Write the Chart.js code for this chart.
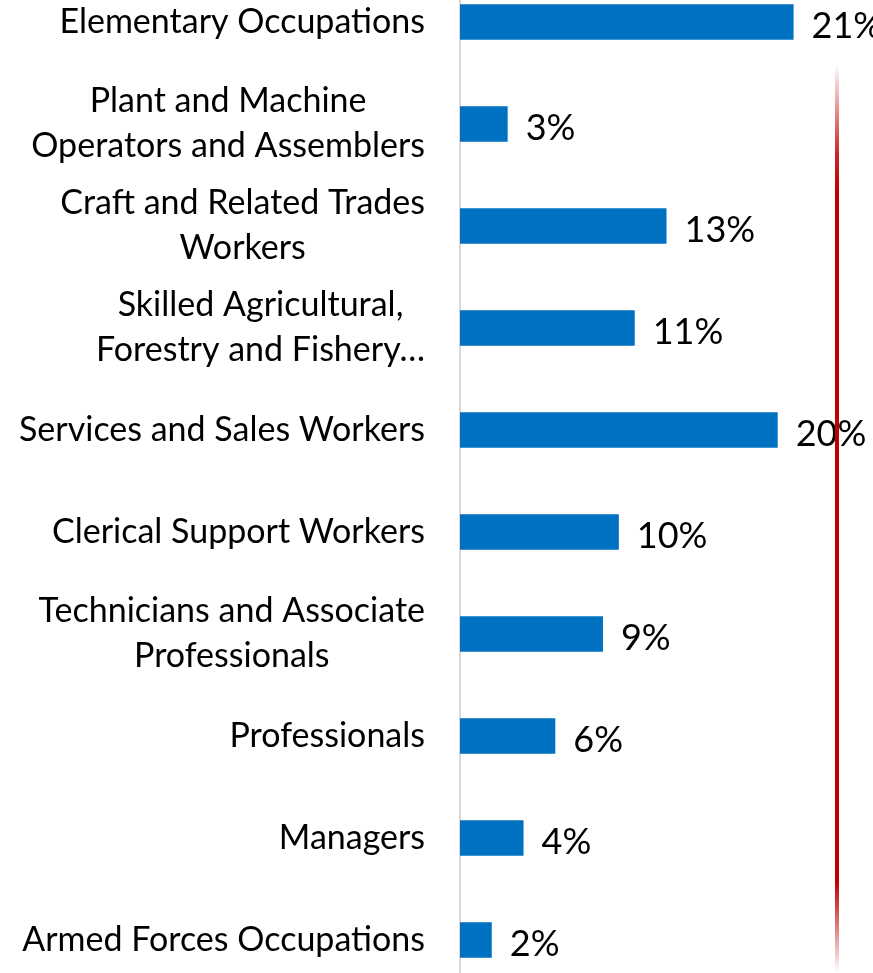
<!DOCTYPE html>
<html>
<head>
<meta charset="utf-8">
<script src="https://cdn.jsdelivr.net/npm/chart.js@4"></script>
<style>
  html, body { margin: 0; padding: 0; background: #ffffff; overflow: hidden; }
  #wrap { position: relative; width: 873px; height: 973px; overflow: hidden; }
  #holder { position: absolute; left: 0; top: -29px; width: 873px; height: 1020px; }
  /* thin red separator rule on the right of the slide */
  #rule {
    position: absolute; left: 835px; top: 64px; width: 4px; height: 909px;
    background: linear-gradient(to bottom,
      rgba(192,0,0,0) 0%, rgba(192,0,0,0.85) 10%, #C00000 14%,
      #C00000 90%, rgba(192,0,0,0) 100%);
  }
</style>
</head>
<body>
<div id="wrap">
  <div id="holder"><canvas id="chart"></canvas></div>
  <div id="rule"></div>
</div>
<script>
// Occupation groups, top to bottom (multi-line entries are wrapped labels)
const categories = [
  ["Elementary Occupations"],
  ["Plant and Machine", "Operators and Assemblers"],
  ["Craft and Related Trades", "Workers"],
  ["Skilled Agricultural,", "Forestry and Fishery\u2026"],
  ["Services and Sales Workers"],
  ["Clerical Support Workers"],
  ["Technicians and Associate", "Professionals"],
  ["Professionals"],
  ["Managers"],
  ["Armed Forces Occupations"]
];

// Share of employment by occupation group (%)
const shares = [21, 3, 13, 11, 20, 10, 9, 6, 4, 2];

// Value axis range (%)
const axisMin = 0;
const axisMax = 26;

const BAR_BLUE = '#0070C0';
const FONT = 'Lato, "Open Sans", sans-serif';

// Draws the wrapped category names: block right-aligned to the axis,
// lines of a block centred on each other.
const categoryLabels = {
  id: 'categoryLabels',
  afterDraw(chart) {
    const ctx = chart.ctx;
    const yScale = chart.scales.y;
    const right = chart.chartArea.left - 35;
    const lineH = 45;
    ctx.save();
    ctx.font = '34px ' + FONT;
    ctx.fillStyle = '#000000';
    ctx.textAlign = 'center';
    ctx.textBaseline = 'middle';
    categories.forEach((lines, i) => {
      const y = yScale.getPixelForValue(i);
      const w = Math.max(...lines.map(t => ctx.measureText(t).width));
      const cx = right - w / 2;
      lines.forEach((t, j) => {
        ctx.fillText(t, cx, y + (j - (lines.length - 1) / 2) * lineH);
      });
    });
    ctx.restore();
  }
};

// Percentage labels at the end of each bar
const valueLabels = {
  id: 'valueLabels',
  afterDatasetsDraw(chart) {
    const ctx = chart.ctx;
    const meta = chart.getDatasetMeta(0);
    ctx.save();
    ctx.font = '36px ' + FONT;
    ctx.fillStyle = '#000000';
    ctx.textAlign = 'left';
    ctx.textBaseline = 'middle';
    meta.data.forEach((bar, i) => {
      ctx.fillText(shares[i] + '%', bar.x + 18, bar.y + 4);
    });
    ctx.restore();
  }
};

new Chart(document.getElementById('chart'), {
  type: 'bar',
  data: {
    labels: categories.map(l => l.join(' ')),
    datasets: [{
      data: shares,
      backgroundColor: BAR_BLUE,
      borderWidth: 0,
      categoryPercentage: 0.7,
      barPercentage: 0.5
    }]
  },
  options: {
    indexAxis: 'y',
    responsive: true,
    maintainAspectRatio: false,
    animation: false,
    layout: { padding: { left: 460, right: 0, top: 0, bottom: 0 } },
    plugins: {
      legend: { display: false },
      tooltip: { enabled: false }
    },
    scales: {
      x: { display: false, min: axisMin, max: axisMax },
      y: {
        display: true,
        grid: { display: false, drawTicks: false },
        ticks: { display: false },
        border: { display: true, color: '#D9D9D9', width: 2 }
      }
    }
  },
  plugins: [categoryLabels, valueLabels]
});
</script>
</body>
</html>
